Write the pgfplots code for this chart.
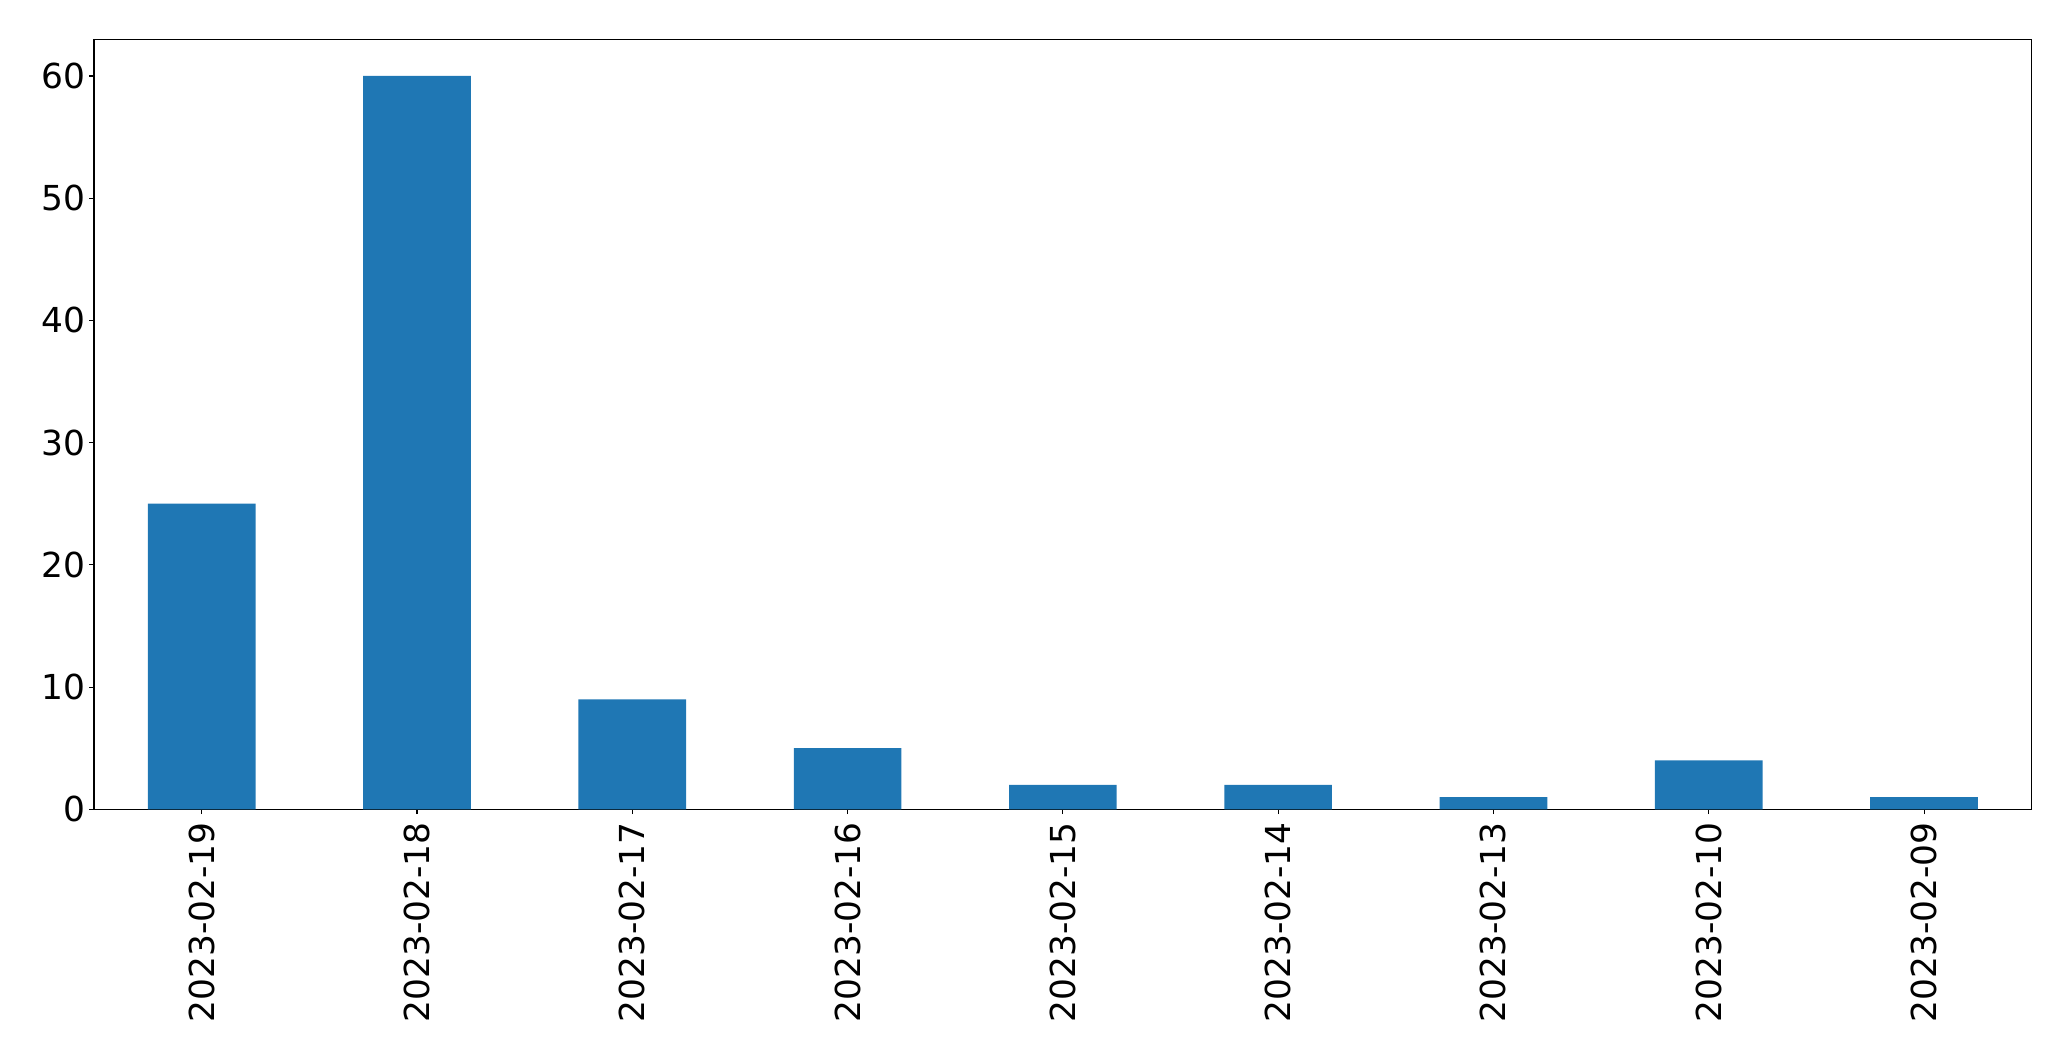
\documentclass[border=0pt]{standalone}
\usepackage{fontspec}
\setmainfont{DejaVu Sans}
\usepackage{pgfplots}
\pgfplotsset{compat=1.18}
\definecolor{tabblue}{HTML}{1F77B4}
\begin{document}
\begin{tikzpicture}
\begin{axis}[
  scale only axis,
  width=968.5pt, height=384.85pt,
  xmin=-0.5, xmax=8.5, ymin=0, ymax=63,
  xtick={0,1,2,3,4,5,6,7,8},
  xticklabels={2023-02-19,2023-02-18,2023-02-17,2023-02-16,2023-02-15,2023-02-14,2023-02-13,2023-02-10,2023-02-09},
  ytick={0,10,20,30,40,50,60},
  tick align=outside, tick pos=left,
  major tick length=2.43pt,
  axis line style={line width=0.56pt},
  every tick/.style={black, line width=0.56pt},
  ticklabel style={font=\fontsize{17.2}{20}\selectfont, inner sep=0pt},
  xticklabel style={yshift=-4pt, rotate=90, anchor=east},
  yticklabel style={xshift=-1.6pt},
  /pgf/number format/assume math mode=true,
]
\addplot[ybar, bar width=0.5, fill=tabblue, draw=none] coordinates {
  (0,25) (1,60) (2,9) (3,5) (4,2) (5,2) (6,1) (7,4) (8,1)
};
\end{axis}
\path ([shift={(-47pt,-126pt)}]current axis.south west) rectangle ([shift={(19.65pt,19.65pt)}]current axis.north east);
\end{tikzpicture}
\end{document}
